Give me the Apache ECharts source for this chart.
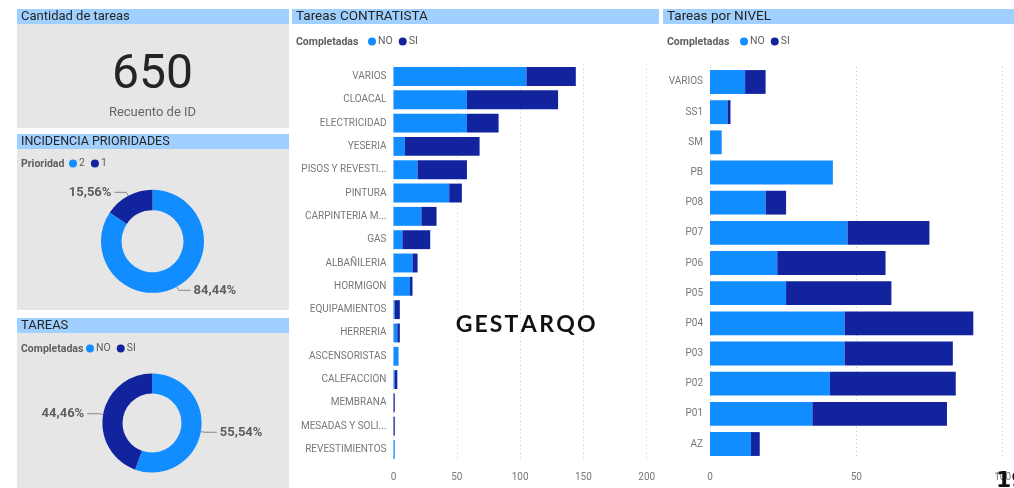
<!DOCTYPE html>
<html><head><meta charset="utf-8">
<script src="https://cdn.jsdelivr.net/npm/echarts@6/dist/echarts.min.js"></script>
<style>html,body{margin:0;padding:0;background:#fff}#c{width:1014px;height:488px}</style>
</head><body><div id="c"></div>
<script>
// ---- data ----
const totalTareas = 650;
const prioridadNames = ['2', '1'];
const prioridadPct = [84.44, 15.56];
const completadasNames = ['NO', 'SI'];
const tareasValues = [361, 289];

const contratistaCats = ['VARIOS','CLOACAL','ELECTRICIDAD','YESERIA','PISOS Y REVESTI...','PINTURA','CARPINTERIA M...','GAS','ALBAÑILERIA','HORMIGON','EQUIPAMIENTOS','HERRERIA','ASCENSORISTAS','CALEFACCION','MEMBRANA','MESADAS Y SOLI...','REVESTIMIENTOS'];
const contratistaNO = [105, 58, 58, 9, 19, 44, 22, 7, 15, 13, 1, 3, 4, 1, 0, 0, 1];
const contratistaSI = [39, 72, 25, 59, 39, 10, 12, 22, 4, 2, 4, 2, 0, 2, 1, 1, 0];
const contratistaTicks = [0, 50, 100, 150, 200];

const nivelCats = ['VARIOS','SS1','SM','PB','P08','P07','P06','P05','P04','P03','P02','P01','AZ'];
const nivelNO = [12, 6, 4, 42, 19, 47, 23, 26, 46, 46, 41, 35, 14];
const nivelSI = [7, 1, 0, 0, 7, 28, 37, 36, 44, 37, 43, 46, 3];
const nivelTicks = [0, 50, 100];

const watermark = 'GESTARQO';

// ---- style ----
const C_NO = '#118DFF', C_SI = '#12239E';
const BAR_BG = '#A0D0FF', PANEL = '#E6E6E6';
const FONT = 'Roboto, "DejaVu Sans", sans-serif';
const TXT = '#252423', SUB = '#605E5C';

const chart = echarts.init(document.getElementById('c'), null, {renderer: 'canvas'});

function fmtPct(p) { return p.percent.toFixed(2).replace('.', ',') + '%'; }

const graphics = [
  {type:'rect', shape:{x:17,y:9,width:272,height:15}, style:{fill:BAR_BG}},
  {type:'rect', shape:{x:17,y:24,width:272,height:104}, style:{fill:PANEL}},
  {type:'rect', shape:{x:17,y:134,width:272,height:15}, style:{fill:BAR_BG}},
  {type:'rect', shape:{x:17,y:149,width:272,height:161}, style:{fill:PANEL}},
  {type:'rect', shape:{x:17,y:318,width:272,height:15}, style:{fill:BAR_BG}},
  {type:'rect', shape:{x:17,y:333,width:272,height:155}, style:{fill:PANEL}},
  {type:'rect', shape:{x:292,y:9,width:367,height:15}, style:{fill:BAR_BG}},
  {type:'rect', shape:{x:663,y:9,width:351,height:15}, style:{fill:BAR_BG}},
  {type:'text', x:21, y:17, style:{text:'Cantidad de tareas', font:'13px '+FONT, fill:TXT, textVerticalAlign:'middle'}},
  {type:'text', x:21, y:142, style:{text:'INCIDENCIA PRIORIDADES', font:'12.5px '+FONT, fill:TXT, textVerticalAlign:'middle'}},
  {type:'text', x:21, y:326, style:{text:'TAREAS', font:'13px '+FONT, fill:TXT, textVerticalAlign:'middle'}},
  {type:'text', x:296, y:17, style:{text:'Tareas CONTRATISTA', font:'13.5px '+FONT, fill:TXT, textVerticalAlign:'middle'}},
  {type:'text', x:667, y:17, style:{text:'Tareas por NIVEL', font:'13.5px '+FONT, fill:TXT, textVerticalAlign:'middle'}},
  {type:'text', x:152.5, y:76, style:{text:String(totalTareas), font:'48px '+FONT, fill:'#252423', textAlign:'center', textVerticalAlign:'middle'}},
  {type:'text', x:152.5, y:113, style:{text:'Recuento de ID', font:'13px '+FONT, fill:'#666666', textAlign:'center', textVerticalAlign:'middle'}},
  {type:'text', x:21, y:164, style:{text:'Prioridad', font:'bold 10.5px '+FONT, fill:SUB, textVerticalAlign:'middle'}},
  {type:'text', x:21, y:349, style:{text:'Completadas', font:'bold 10.5px '+FONT, fill:SUB, textVerticalAlign:'middle'}},
  {type:'text', x:296, y:42, style:{text:'Completadas', font:'bold 10.5px '+FONT, fill:SUB, textVerticalAlign:'middle'}},
  {type:'text', x:667, y:42, style:{text:'Completadas', font:'bold 10.5px '+FONT, fill:SUB, textVerticalAlign:'middle'}},
  {type:'text', z:100, x:996, y:481, style:{text:'19', font:'bold 22px "DejaVu Sans", sans-serif', fill:'#111111', textVerticalAlign:'middle'}}
];
// letter-spaced watermark
const wmCenters = [464.2, 481, 496, 511.5, 528.8, 546.7, 565.5, 586.2];
watermark.split('').forEach((ch, i) => {
  graphics.push({type:'text', z:100, x:wmCenters[i], y:325,
    style:{text:ch, font:'bold 23px Lato, "DejaVu Sans", sans-serif', fill:'#111111', textAlign:'center', textVerticalAlign:'middle'}});
});

const legendBase = {
  selectedMode:false, icon:'circle', itemWidth:8, itemHeight:8, itemGap:6, orient:'horizontal', padding:0,
  textStyle:{fontSize:10.5, color:SUB, fontFamily:FONT, padding:[0,0,0,-3]}
};

const pieLabel = {
  show:true, position:'outside', formatter:fmtPct, fontFamily:FONT, fontSize:13, fontWeight:'bold', color:SUB,
  distanceToLabelLine:3
};
const pieLabelLine = {show:true, length:4, length2:12, lineStyle:{color:'#8A8886', width:1}};

const option = {
  animation:false,
  backgroundColor:'#ffffff',
  graphic: graphics,
  legend: [
    Object.assign({}, legendBase, {left:69, top:158, data:prioridadNames}),
    Object.assign({}, legendBase, {left:86, top:343, data:completadasNames}),
    Object.assign({}, legendBase, {left:368, top:36, data:completadasNames}),
    Object.assign({}, legendBase, {left:740, top:36, data:completadasNames})
  ],
  grid: [
    {left:393.5, right:367.3, top:64.8, bottom:26.8, containLabel:false},
    {left:710, right:6.3, top:66.9, bottom:28.9, containLabel:false}
  ],
  xAxis: [
    {type:'value', gridIndex:0, min:contratistaTicks[0], max:contratistaTicks[contratistaTicks.length-1], interval:50,
     axisLine:{show:false}, axisTick:{show:false},
     axisLabel:{color:'#777777', fontSize:10, fontFamily:FONT, margin:11},
     splitLine:{show:true, lineStyle:{color:'#C8C8C8', type:[1,3], width:1}}},
    {type:'value', gridIndex:1, min:nivelTicks[0], max:nivelTicks[nivelTicks.length-1], interval:50,
     axisLine:{show:false}, axisTick:{show:false},
     axisLabel:{color:'#777777', fontSize:10, fontFamily:FONT, margin:13},
     splitLine:{show:true, lineStyle:{color:'#C8C8C8', type:[1,3], width:1}}}
  ],
  yAxis: [
    {type:'category', gridIndex:0, data:contratistaCats, inverse:true,
     axisLine:{show:false}, axisTick:{show:false},
     axisLabel:{color:'#777777', fontSize:10, fontFamily:FONT, margin:7}},
    {type:'category', gridIndex:1, data:nivelCats, inverse:true,
     axisLine:{show:false}, axisTick:{show:false},
     axisLabel:{color:'#777777', fontSize:10, fontFamily:FONT, margin:7}}
  ],
  series: [
    {type:'pie', name:'Prioridad', center:[152.5, 241.3], radius:[31, 51.5], startAngle:90, clockwise:true,
     label:pieLabel, labelLine:pieLabelLine, emphasis:{disabled:true},
     data: prioridadNames.map((n,i)=>({name:n, value:prioridadPct[i], itemStyle:{color: i===0?C_NO:C_SI}}))},
    {type:'pie', name:'Completadas', center:[152, 423], radius:[29.5, 49.6], startAngle:90, clockwise:true,
     label:pieLabel, labelLine:pieLabelLine, emphasis:{disabled:true},
     data: completadasNames.map((n,i)=>({name:n, value:tareasValues[i], itemStyle:{color: i===0?C_NO:C_SI}}))},
    {type:'bar', name:'NO', stack:'c', xAxisIndex:0, yAxisIndex:0, data:contratistaNO, barCategoryGap:'19%', itemStyle:{color:C_NO}},
    {type:'bar', name:'SI', stack:'c', xAxisIndex:0, yAxisIndex:0, data:contratistaSI, barCategoryGap:'19%', itemStyle:{color:C_SI}},
    {type:'bar', name:'NO', stack:'n', xAxisIndex:1, yAxisIndex:1, data:nivelNO, barCategoryGap:'21%', itemStyle:{color:C_NO}},
    {type:'bar', name:'SI', stack:'n', xAxisIndex:1, yAxisIndex:1, data:nivelSI, barCategoryGap:'21%', itemStyle:{color:C_SI}}
  ]
};
chart.setOption(option);
</script>
</body></html>
